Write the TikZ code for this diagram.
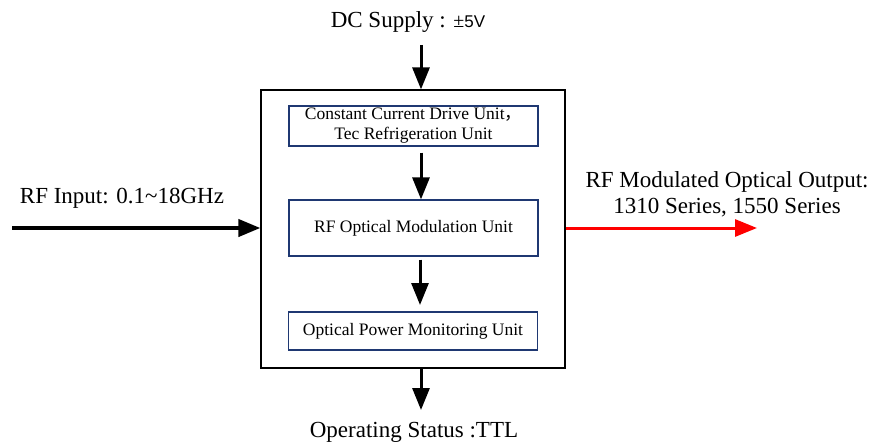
\documentclass[tikz,border=0pt]{standalone}
\usepackage{fontspec}
\setmainfont{Liberation Serif}
\setsansfont{Liberation Sans}
\newfontfamily\cjk{Noto Sans CJK SC}
\usetikzlibrary{arrows.meta}

\definecolor{unitblue}{HTML}{1F3872}
\tikzset{
    unit/.style={draw=unitblue, line width=1.2pt, minimum width=249pt, font=\fontsize{17.5}{20}\selectfont, align=center, inner sep=0pt},
    flow/.style={line width=3pt, -{Triangle[length=22pt,width=17pt]}},
    label/.style={font=\fontsize{23}{26}\selectfont, align=center, inner sep=0pt}
}

\begin{document}
\begin{tikzpicture}[x=1pt,y=-1pt]
        \useasboundingbox (0,0) rectangle (886,444);

        \node[draw,line width=1.2pt,minimum width=304pt,minimum height=278pt] (box) at (413, 229) {};
        \node[unit, minimum height=40pt] (drive)   at (413.5, 126) {Constant Current Drive Unit{\cjk ，}\\ Tec Refrigeration Unit};
        \node[unit, minimum height=56pt] (mod)     at (413.5, 228) {RF Optical Modulation Unit};
        \node[unit, minimum height=38pt] (monitor) at (413,   331) {Optical Power Monitoring Unit};

        \node[label] (dc)     at (408, 22)  {DC Supply : {\fontsize{20}{22}\selectfont ±}{\fontsize{17}{20}\selectfont\sffamily 5V}};
        \node[label] (rfin)   at (122, 198) {RF Input: 0.1\char`\~18GHz};
        \node[label] (rfout)  at (727, 194) {RF Modulated Optical Output:\\1310 Series, 1550 Series};
        \node[label] (status) at (414, 432) {Operating Status :TTL};

        \coordinate (mid)   at (421, 0);
        \coordinate (start) at (12, 228);
        \coordinate (end)   at (757, 228);

        \draw[flow] (mid |- 0,45)  -- (box.north -| mid);
        \draw[flow] (drive.south -| mid) ++(0,6) -- (mod.north -| mid);
        \draw[flow] (mod.south -| mid) ++(-1,3) -- (420, 305);
        \draw[flow] (box.south -| mid) -- (mid |- 0,410);
        \draw[flow, line width=4pt] (start) -- (box.west |- start);
        \draw[flow, red] (box.east |- end) -- (end);
    \end{tikzpicture}
\end{document}
